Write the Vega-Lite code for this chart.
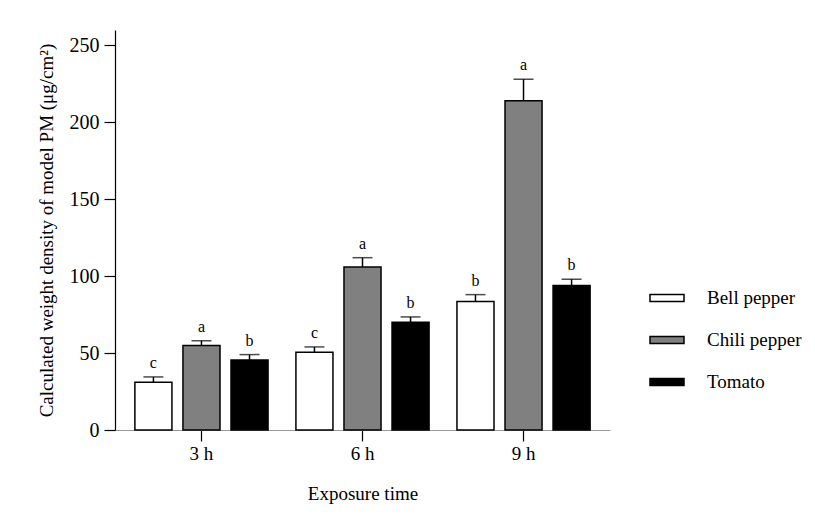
{
  "$schema": "https://vega.github.io/schema/vega-lite/v6.json",
  "autosize": {"type": "none"},
  "padding": {"left": 115, "top": 30, "right": 205, "bottom": 92},
  "width": 495,
  "height": 400,
  "config": {
    "view": {"stroke": null},
    "font": "Liberation Serif",
    "axis": {"labelFont": "Liberation Serif", "titleFont": "Liberation Serif", "labelFontSize": 20, "titleFontSize": 19, "titleFontWeight": "normal", "labelColor": "#000", "titleColor": "#000", "grid": false, "tickColor": "#000", "tickSize": 11, "tickWidth": 1.2, "domainWidth": 1.2}
  },
  "data": {
    "values": [
      {"time": "3 h", "type": "Bell pepper", "value": 31, "upper": 34.5, "letter": "c"},
      {"time": "3 h", "type": "Chili pepper", "value": 55, "upper": 58, "letter": "a"},
      {"time": "3 h", "type": "Tomato", "value": 45.5, "upper": 49, "letter": "b"},
      {"time": "6 h", "type": "Bell pepper", "value": 50.5, "upper": 54, "letter": "c"},
      {"time": "6 h", "type": "Chili pepper", "value": 106, "upper": 112, "letter": "a"},
      {"time": "6 h", "type": "Tomato", "value": 70, "upper": 73.5, "letter": "b"},
      {"time": "9 h", "type": "Bell pepper", "value": 83.5, "upper": 88, "letter": "b"},
      {"time": "9 h", "type": "Chili pepper", "value": 214, "upper": 228, "letter": "a"},
      {"time": "9 h", "type": "Tomato", "value": 94, "upper": 98, "letter": "b"}
    ]
  },
  "encoding": {
    "x": {"field": "time", "type": "nominal", "sort": null, "scale": {"paddingInner": 0, "paddingOuter": 0.037},
      "axis": {"title": "Exposure time", "labelAngle": 0, "domainColor": "#999", "labelFontSize": 19, "labelPadding": 3, "titlePadding": 21}},
    "xOffset": {"field": "type", "type": "nominal", "sort": null, "scale": {"paddingInner": 0.229, "paddingOuter": 0.29}}
  },
  "layer": [
    {
      "mark": {"type": "bar", "stroke": "#000", "strokeWidth": 1.5},
      "encoding": {
        "y": {"field": "value", "type": "quantitative", "scale": {"domain": [0, 250]},
          "axis": {"title": "Calculated weight density of model PM (μg/cm²)", "values": [0, 50, 100, 150, 200, 250], "domainColor": "#000", "labelPadding": 5, "titlePadding": 13}},
        "fill": {"field": "type", "type": "nominal", "sort": null,
          "scale": {"domain": ["Bell pepper", "Chili pepper", "Tomato"], "range": ["#ffffff", "#808080", "#000000"]},
          "legend": {"title": null, "orient": "none", "legendX": 534, "legendY": 250, "symbolType": "M-1,-0.2L1,-0.2L1,0.2L-1,0.2Z", "symbolSize": 1156, "symbolStrokeColor": "#000", "symbolStrokeWidth": 1.5, "labelFont": "Liberation Serif", "labelFontSize": 19, "labelColor": "#000", "rowPadding": 14, "labelOffset": 22}}
      }
    },
    {
      "mark": {"type": "rule", "stroke": "#000", "strokeWidth": 1.5},
      "encoding": {"y": {"field": "value", "type": "quantitative"}, "y2": {"field": "upper"}}
    },
    {
      "mark": {"type": "tick", "color": "#000", "size": 20, "thickness": 1.5},
      "encoding": {"y": {"field": "upper", "type": "quantitative"}}
    },
    {
      "mark": {"type": "text", "font": "Liberation Serif", "fontSize": 16, "baseline": "alphabetic", "dy": -9, "color": "#000"},
      "encoding": {"y": {"field": "upper", "type": "quantitative"}, "text": {"field": "letter"}}
    }
  ]
}
